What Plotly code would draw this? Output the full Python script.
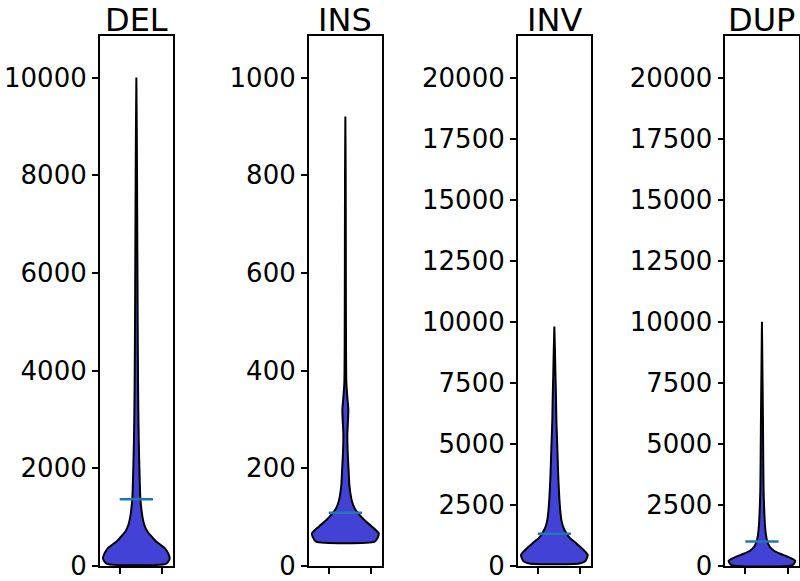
import plotly.graph_objects as go

# ---- data ----
categories = ["DEL", "INS", "INV", "DUP"]

# violin outline profiles: value levels and relative half-widths (0..1)
del_y = [50, 150, 220, 300, 360, 435, 510, 570, 705, 840, 980, 1115, 1385, 1790, 2470, 3150, 3830, 5000, 6500, 8000, 9000, 10000]
del_w = [0.90, 1.0, 0.98, 0.92, 0.86, 0.72, 0.58, 0.50, 0.33, 0.24, 0.19, 0.16, 0.12, 0.10, 0.075, 0.06, 0.05, 0.04, 0.03, 0.02, 0.012, 0.0]

ins_y = [50, 58, 67, 81, 94, 108, 118, 132, 145, 166, 193, 234, 270, 300, 320, 345, 375, 450, 600, 800, 920]
ins_w = [0.88, 0.97, 1.0, 0.79, 0.57, 0.38, 0.28, 0.20, 0.16, 0.12, 0.10, 0.07, 0.06, 0.08, 0.09, 0.06, 0.03, 0.02, 0.015, 0.01, 0.0]

inv_y = [100, 200, 450, 733, 937, 1140, 1344, 1548, 1820, 2228, 2770, 3585, 4400, 5214, 6030, 6840, 8000, 9000, 9800]
inv_w = [0.75, 0.93, 1.0, 0.82, 0.65, 0.47, 0.36, 0.28, 0.22, 0.18, 0.15, 0.12, 0.10, 0.08, 0.06, 0.05, 0.03, 0.015, 0.0]

dup_y = [50, 217, 353, 490, 625, 800, 1005, 1275, 1680, 2228, 3040, 4260, 6000, 8000, 10000]
dup_w = [0.93, 1.0, 0.82, 0.57, 0.36, 0.23, 0.16, 0.12, 0.09, 0.07, 0.05, 0.04, 0.03, 0.015, 0.0]

means = [1365, 109, 1317, 1005]

y_max = [10850, 1085, 21700, 21700]
tick_step = [2000, 200, 2500, 2500]
tick_top = [10000, 1000, 20000, 20000]

profiles = [(del_y, del_w), (ins_y, ins_w), (inv_y, inv_w), (dup_y, dup_w)]

# ---- layout constants ----
W, H = 800, 581
left_px = [99.7, 308.7, 517.7, 725.3]
panel_w = 73.3
top_px, bot_px = 36, 566
center = 0.5
max_half = 0.4545
mean_half = 0.227
FONT = "DejaVu Sans"

fig = go.Figure()
layout = dict(
    width=W, height=H, margin=dict(l=0, r=0, t=0, b=0, autoexpand=False),
    paper_bgcolor="white", plot_bgcolor="white", showlegend=False,
    font=dict(family=FONT, color="black"),
)
annotations = []
for i, (cat, (ys, ws)) in enumerate(zip(categories, profiles)):
    n = "" if i == 0 else str(i + 1)
    xa, ya = "x" + n, "y" + n
    left_x = [center - w * max_half for w in ws]
    right_x = [center + w * max_half for w in ws]
    px = left_x + right_x[::-1] + [left_x[0]]
    py = list(ys) + list(ys)[::-1] + [ys[0]]
    fig.add_trace(go.Scatter(
        x=px, y=py, mode="lines", fill="toself",
        fillcolor="rgb(66,66,214)",
        line=dict(color="black", width=2, shape="spline", smoothing=0.6),
        xaxis=xa, yaxis=ya, hoverinfo="skip",
    ))
    fig.add_trace(go.Scatter(
        x=[center - mean_half, center + mean_half], y=[means[i], means[i]],
        mode="lines", line=dict(color="#1f77b4", width=2.5),
        xaxis=xa, yaxis=ya, hoverinfo="skip",
    ))
    d0 = left_px[i] / W
    d1 = (left_px[i] + panel_w) / W
    ydom = [1 - bot_px / H, 1 - top_px / H]
    tv = list(range(0, tick_top[i] + 1, tick_step[i]))
    layout["xaxis" + n] = dict(
        domain=[d0, d1], range=[0, 1], anchor=ya, automargin=False,
        showline=True, mirror=True, linecolor="black", linewidth=1.5,
        ticks="outside", ticklen=6, tickwidth=1.5, tickcolor="black",
        tickvals=[0.275, 0.85], ticktext=["", ""], showgrid=False, zeroline=False,
        fixedrange=True,
    )
    layout["yaxis" + n] = dict(
        domain=ydom, range=[0, y_max[i]], anchor=xa, automargin=False,
        showline=True, mirror=True, linecolor="black", linewidth=1.5,
        ticks="outside", ticklen=6, tickwidth=1.5, tickcolor="black",
        tickvals=tv, ticktext=[str(v) for v in tv],
        tickfont=dict(family=FONT, size=26, color="black"),
        ticklabeloverflow="allow",
        showgrid=False, zeroline=False, fixedrange=True,
    )
    annotations.append(dict(
        text=cat, xref="paper", yref="paper",
        x=(d0 + d1) / 2, y=1, xanchor="center", yanchor="top",
        borderpad=0,
        showarrow=False, font=dict(family=FONT, size=32, color="black"),
    ))
layout["annotations"] = annotations
fig.update_layout(**layout)
fig.write_html("out.html")
